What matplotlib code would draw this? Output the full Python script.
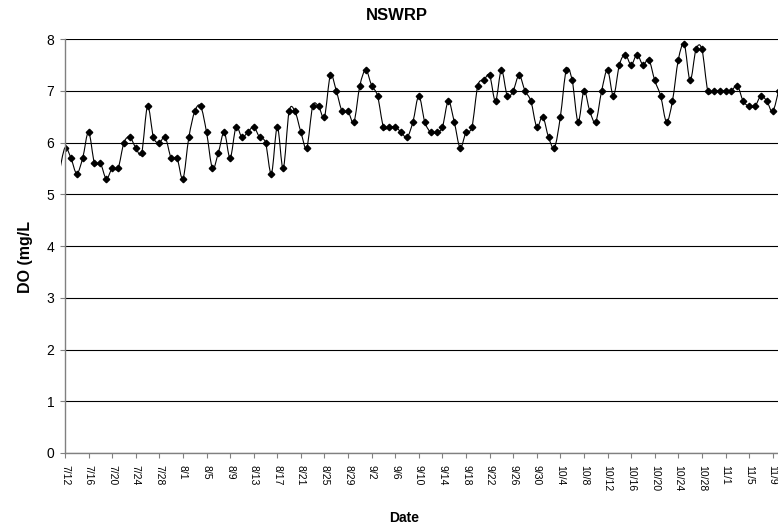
import matplotlib
matplotlib.use("Agg")
import matplotlib.pyplot as plt
import matplotlib.dates as mdates
from matplotlib.path import Path
from matplotlib.patches import PathPatch, Rectangle
import numpy as np
import pandas as pd

plt.rcParams['font.family'] = ['Liberation Sans', 'DejaVu Sans']

# daily dissolved oxygen readings, 7/11 through 11/10
start_date = '2007-07-11'
do_values = [
    5.4,
    5.9, 5.7, 5.4, 5.7, 6.2, 5.6, 5.6, 5.3, 5.5, 5.5, 6.0, 6.1, 5.9, 5.8, 6.7,
    6.1, 6.0, 6.1, 5.7, 5.7,
    5.3, 6.1, 6.6, 6.7, 6.2, 5.5, 5.8, 6.2, 5.7, 6.3, 6.1, 6.2, 6.3, 6.1, 6.0,
    5.4, 6.3, 5.5, 6.6, 6.6, 6.2, 5.9, 6.7, 6.7, 6.5, 7.3, 7.0, 6.6, 6.6, 6.4,
    7.1,
    7.4, 7.1, 6.9, 6.3, 6.3, 6.3, 6.2, 6.1, 6.4, 6.9, 6.4, 6.2, 6.2, 6.3, 6.8,
    6.4, 5.9, 6.2, 6.3, 7.1, 7.2, 7.3, 6.8, 7.4, 6.9, 7.0, 7.3, 7.0, 6.8, 6.3,
    6.5, 6.1, 5.9, 6.5, 7.4, 7.2, 6.4, 7.0, 6.6, 6.4, 7.0, 7.4, 6.9, 7.5, 7.7,
    7.5, 7.7, 7.5, 7.6, 7.2, 6.9, 6.4, 6.8, 7.6, 7.9, 7.2, 7.8, 7.8, 7.0, 7.0,
    7.0,
    7.0, 7.0, 7.1, 6.8, 6.7, 6.7, 6.9, 6.8, 6.6,
    7.0,
]
y_ticks = [0, 1, 2, 3, 4, 5, 6, 7, 8]
tick_every = 4  # days between date labels

dates = pd.date_range(start_date, periods=len(do_values), freq='D')
x = mdates.date2num(dates.to_pydatetime())
y = np.array(do_values)


def smooth_path(xs, ys):
    # cubic bezier through every point, spreadsheet-style smoothing
    verts = [(xs[0], ys[0])]
    codes = [Path.MOVETO]
    n = len(xs)
    for i in range(n - 1):
        i0 = max(i - 1, 0)
        i3 = min(i + 2, n - 1)
        c1 = (xs[i] + (xs[i + 1] - xs[i0]) / 6, ys[i] + (ys[i + 1] - ys[i0]) / 6)
        c2 = (xs[i + 1] - (xs[i3] - xs[i]) / 6, ys[i + 1] - (ys[i3] - ys[i]) / 6)
        verts += [c1, c2, (xs[i + 1], ys[i + 1])]
        codes += [Path.CURVE4] * 3
    return Path(verts, codes)


fig = plt.figure(figsize=(7.78, 5.27), dpi=100)
ax = fig.add_axes([65 / 778, 74 / 527, 713 / 778, 414 / 527])

ax.set_ylim(0, 8)
ax.set_yticks(y_ticks)
ax.yaxis.grid(True, color='black', linewidth=0.8)
ax.set_axisbelow(True)

first = x[1]
ax.set_xlim(first, first + 120.9)
ax.set_xticks(x[1::tick_every])
ax.set_xticklabels([f"{d.month}/{d.day}" for d in dates[1::tick_every]],
                   rotation=-90, fontsize=7.5)

for s in ['top', 'right']:
    ax.spines[s].set_visible(False)
for s in ['left', 'bottom']:
    ax.spines[s].set_color('#808080')
    ax.spines[s].set_linewidth(1.0)

ax.tick_params(axis='y', length=3.6, width=0.8, color='#808080', pad=4,
               labelsize=10)
ax.tick_params(axis='x', length=3.6, width=0.8, color='#808080', pad=5)

# the line runs a few pixels past the left axis; markers stay inside
clip = Rectangle((-0.006, -0.05), 1.1, 1.1, transform=ax.transAxes)

curve = PathPatch(smooth_path(x, y), facecolor='none', edgecolor='black',
                  linewidth=0.8)
ax.add_patch(curve)
curve.set_clip_path(clip)

ax.plot(x, y, linestyle='none', marker='D', markersize=3.3, color='black')

fig.text(397 / 778, 1 - 15 / 527, 'NSWRP', ha='center', va='center',
         fontsize=12, fontweight='bold')
fig.text(404 / 778, 1 - 518.5 / 527, 'Date', ha='center', va='center',
         fontsize=10, fontweight='bold')
fig.text(26 / 778, 1 - 257 / 527, 'DO (mg/L', ha='center', va='center',
         rotation=90, fontsize=11.5, fontweight='bold')

fig.savefig('out.png', dpi=100)
